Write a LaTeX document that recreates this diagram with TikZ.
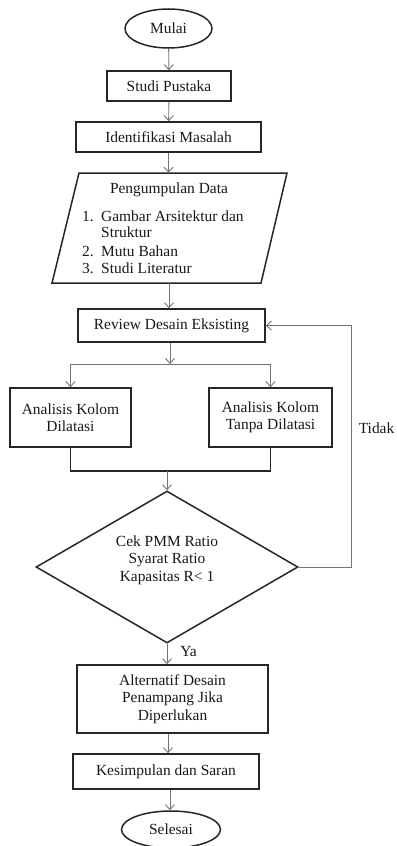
\documentclass[tikz,border=0pt]{standalone}
\usepackage{fontspec}
\setmainfont{Liberation Serif}
\usetikzlibrary{arrows.meta,shapes.geometric}
\begin{document}
\begin{tikzpicture}[x=1bp,y=-1bp,
  txt/.style={font=\fontsize{15.5}{17.5}\selectfont, text=black!90, align=center, inner sep=0pt},
  box/.style={txt, draw=black!85, line width=1.5bp, rectangle},
  term/.style={txt, draw=black!85, line width=1.5bp, ellipse},
  arr/.style={draw=black!55, line width=0.9bp, -{Straight Barb[length=5bp,width=9bp,line width=0.9bp]}},
  ln/.style={draw=black!85, line width=1.5bp}]
\useasboundingbox (0,0) rectangle (396,846);
\fill[white] (0,0) rectangle (396,846);

\node[term, minimum width=87bp, minimum height=39bp] (mulai) at (168.5,28.5) {Mulai};
\node[box, minimum width=124bp, minimum height=30bp] (studi) at (169,86) {Studi Pustaka};
\node[box, minimum width=185bp, minimum height=30bp] (ident) at (168.5,137) {Identifikasi Masalah};

% parallelogram
\node[minimum width=208bp, minimum height=110bp, inner sep=0pt] (data) at (169,228) {};
\draw[ln] (79,173) -- (287,173) -- (261,283) -- (52,283) -- cycle;
\node[txt] (datat) at (169,190) {Pengumpulan Data};
\node[txt, anchor=base east] (n1) at (94,221) {1.};
\node[txt, anchor=base west] (i1) at (101,221) {Gambar Arsitektur dan};
\node[txt, anchor=base west] (i1b) at (101,237) {Struktur};
\node[txt, anchor=base east] (n2) at (94,256) {2.};
\node[txt, anchor=base west] (i2) at (101,256) {Mutu Bahan};
\node[txt, anchor=base east] (n3) at (94,273) {3.};
\node[txt, anchor=base west] (i3) at (101,273) {Studi Literatur};

\node[box, minimum width=187bp, minimum height=33bp] (review) at (171.5,325.5) {Review Desain Eksisting};
\node[box, minimum width=121bp, minimum height=59bp] (kiri) at (70.5,417.5) {Analisis Kolom\\Dilatasi};
\node[box, minimum width=123bp, minimum height=59bp] (kanan) at (270.5,417.5) {Analisis Kolom\\Tanpa Dilatasi};

\node[diamond, draw=black!85, line width=1.5bp, minimum width=262bp, minimum height=152bp, aspect=1.72, inner sep=0pt] (cek) at (167,567) {};
\node[txt] (cekt) at (167,560) {Cek PMM Ratio\\Syarat Ratio\\Kapasitas R< 1};

\node[box, minimum width=191bp, minimum height=68bp] (alt) at (172.5,699) {Alternatif Desain\\Penampang Jika\\Diperlukan};
\node[box, minimum width=186bp, minimum height=35bp] (kes) at (166,771.5) {Kesimpulan dan Saran};
\node[term, minimum width=99bp, minimum height=37bp] (selesai) at (171,829.5) {Selesai};

\coordinate (split) at (170,364);
\coordinate (merge) at (167,471);
\coordinate (loop) at (351,567);

\draw[arr] (mulai) -- (studi);
\draw[arr] (studi) -- (ident);
\draw[arr] (ident.south) -- (ident.south |- data.north);
\draw[arr] (data.south) -- (data.south |- review.north);
\draw[arr] (review.south -| split) -- (split);
\draw[arr] (split) -| (kiri.north);
\draw[arr] (split) -| (kanan.north);
\draw[ln] (kiri.south) |- (merge) -| (kanan.south);
\draw[arr] (merge) -- (cek.north);
\draw[arr] (cek.east) -- (loop) |- (review.east);
\node[txt, anchor=east] (tidak) at (394.5,428) {Tidak};
\draw[arr] (cek.south) -- (cek.south |- alt.north);
\node[txt] (ya) at (188.5,652) {Ya};
\draw[arr] (alt.south -| 168,0) -- (kes.north -| 168,0);
\draw[arr] (kes.south -| 170,0) -- (selesai.north -| 170,0);
\end{tikzpicture}
\end{document}
